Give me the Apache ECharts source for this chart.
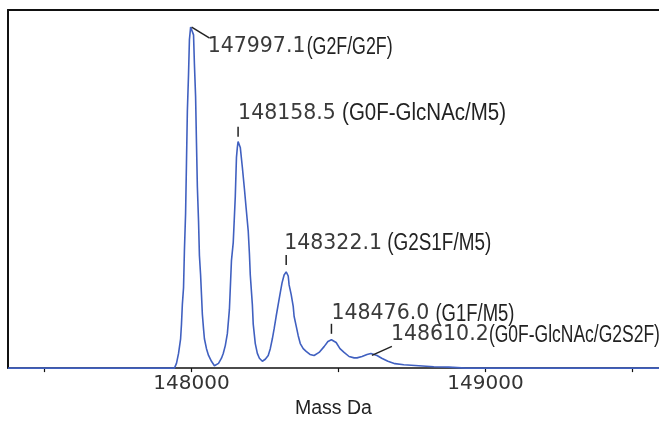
<!DOCTYPE html>
<html><head><meta charset="utf-8">
<script src="https://cdn.jsdelivr.net/npm/echarts@6/dist/echarts.min.js"></script>
<style>html,body{margin:0;padding:0;background:#fff}#c{width:659px;height:424px}</style>
</head><body><div id="c"></div>
<script>
// Deconvoluted mass spectrum (relative intensity, %)
const massDa = [147376,147942,147949,147956,147963,147966,147969,147973,147976,147980,147983,147986,147990,147993,147997.1,
  148007,148010,148014,148017,148020,148024,148027,148031,148034,148037,148041,148044,148051,148058,148068,148078,
  148092,148102,148108,148115,148122,148129,148136,148142,148149,148153,148156,148158.5,
  148166,148173,148180,148186,148193,148197,148200,148207,148210,148217,148224,148231,148241,
  148251,148261,148268,148275,148281,148288,148295,148302,148308,148315,148322.1,
  148329,148332,148339,148346,148349,148356,148363,148370,148380,148390,148403,148417,
  148434,148451,148464,148476.0,148492,148505,148519,148536,148553,148563,148580,148597,148610.2,
  148631,148647,148668,148692,148722,148773,148824,148875,148932,149590];
const intensity = [0,0,1.4,4.3,8.6,12.9,18.7,23.6,34.5,45.4,60.3,75.3,86.2,96.3,100,
  97.7,89.1,79.6,66.1,53.2,43.1,33.0,27.3,21.6,15.8,11.5,8.6,5.7,3.7,2.0,0.7,
  1.4,2.9,4.3,6.6,10.1,17.2,31.6,36.8,50.3,61.8,64.7,66.4,
  64.7,58.9,52.6,46.8,40.2,33.6,27.3,18.7,12.9,7.2,4.3,2.9,2.0,
  2.6,3.7,5.7,8.6,11.5,15.2,18.7,22.1,25.0,27.3,28.2,
  27.0,24.4,21.6,18.1,15.2,12.4,9.5,7.2,5.7,4.9,4.0,3.7,
  4.6,6.3,7.8,8.3,7.5,5.7,4.6,3.4,3.0,3.0,3.4,4.0,4.3,
  3.7,2.9,2.0,1.3,1.0,0.7,0.4,0.3,0,0];

// Annotated peaks
const peakMass = [147997.1, 148158.5, 148322.1, 148476.0, 148610.2];
const peakIntensity = [100, 66.4, 28.2, 8.3, 4.3];
const peakNumber = ['147997.1', '148158.5', '148322.1', '148476.0', '148610.2'];
const peakName = ['(G2F/G2F)', '(G0F-GlcNAc/M5)', '(G2S1F/M5)', '(G1F/M5)', '(G0F-GlcNAc/G2S2F)'];

// Axis ticks
const xTickValues = [147500, 148000, 148500, 149000, 149500];
const xLabelValues = [148000, 149000];

// label placement (pixels, relative to peak apex); nx = name offset, nw = name width
const labelLayout = [
  {tx: 17, ty: 20, l: [1, 0, 19, 11], nx: 99, nw: 86},
  {tx: 0, ty: -28, l: [0, -15, 0, -5], nx: 104, nw: 164},
  {tx: -2, ty: -28.5, l: [0, -17, 0, -7], nx: 103, nw: 104},
  {tx: 0, ty: -26, l: [0, -16, 0, -6], nx: 104, nw: 79},
  {tx: 20, ty: -18.5, l: [1, 2, 21, -7], nx: 98, nw: 171}
];

const numFont = '20.5px "DejaVu Sans"';
const nameFont = '23px "Liberation Sans"';
const mctx = document.createElement('canvas').getContext('2d');
function textWidth(str, font) { mctx.font = font; return mctx.measureText(str).width; }

const spectrum = massDa.map((m, i) => [m, intensity[i]]);
const peaks = peakMass.map((m, i) => [m, peakIntensity[i]]);

const chart = echarts.init(document.getElementById('c'), null, {renderer: 'canvas'});
const xmin = 147376, xmax = 149590;
chart.setOption({
  animation: false,
  backgroundColor: '#fff',
  grid: {left: 8, right: -2, top: 10, bottom: 49},
  xAxis: [{
    type: 'value', min: xmin, max: xmax,
    axisLine: {lineStyle: {color: '#111', width: 1.5}},
    axisTick: {show: true, customValues: xTickValues, length: 4, lineStyle: {color: '#111', width: 1.2}},
    axisLabel: {customValues: xLabelValues, color: '#333', fontFamily: 'DejaVu Sans', fontSize: 20, margin: 6,
      formatter: v => String(Math.round(v))},
    splitLine: {show: false},
    name: 'Mass Da', nameLocation: 'middle', nameGap: 26,
    nameTextStyle: {color: '#222', fontFamily: 'Liberation Sans', fontSize: 19.5}
  }, {
    type: 'value', position: 'top', min: xmin, max: xmax,
    axisLine: {show: true, onZero: false, lineStyle: {color: '#111', width: 2}},
    axisTick: {show: false}, axisLabel: {show: false}, splitLine: {show: false}
  }],
  yAxis: {
    type: 'value', min: 0, max: 105,
    axisLine: {show: true, lineStyle: {color: '#111', width: 2}},
    axisTick: {show: false}, axisLabel: {show: false}, splitLine: {show: false}
  },
  series: [{
    type: 'line', data: spectrum, showSymbol: false, symbol: 'none',
    lineStyle: {color: '#4060c0', width: 1.6}, z: 3
  }, {
    type: 'custom', data: peaks, clip: false, z: 4,
    renderItem: function (params, api) {
      const i = params.dataIndex;
      const p = api.coord([api.value(0), api.value(1)]);
      const L = labelLayout[i];
      const x0 = p[0] + L.tx, y0 = p[1] + L.ty;
      const sx = L.nw / textWidth(peakName[i], nameFont);
      return {
        type: 'group', children: [
          {type: 'line', shape: {x1: p[0] + L.l[0], y1: p[1] + L.l[1], x2: p[0] + L.l[2], y2: p[1] + L.l[3]},
            style: {stroke: '#222', lineWidth: 1.5}},
          {type: 'text', x: x0, y: y0,
            style: {text: peakNumber[i], font: numFont, fill: '#3a3a3a', align: 'left', verticalAlign: 'middle'}},
          {type: 'text', x: x0 + L.nx, y: y0 + 0.5, scaleX: sx,
            style: {text: peakName[i], font: nameFont, fill: '#222', align: 'left', verticalAlign: 'middle'}}
        ]
      };
    }
  }]
});
</script></body></html>
